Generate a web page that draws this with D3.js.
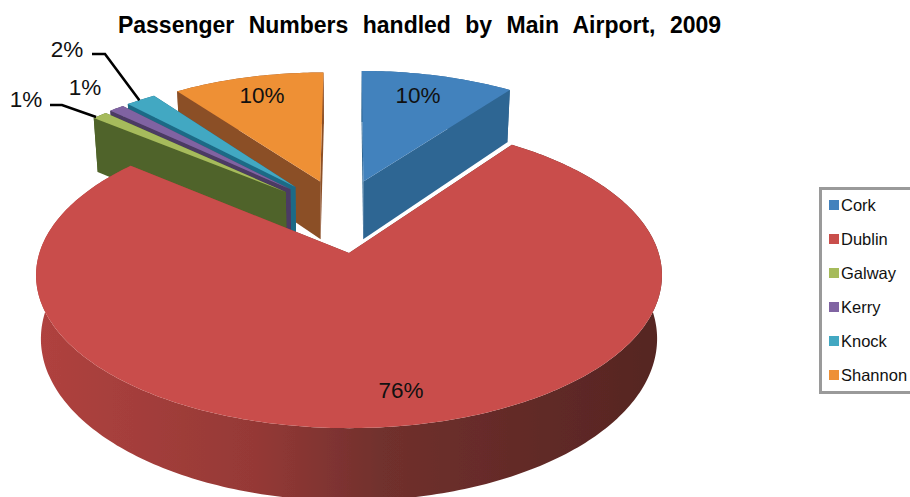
<!DOCTYPE html>
<html>
<head>
<meta charset="utf-8">
<script src="https://cdn.jsdelivr.net/npm/d3@7"></script>
<style>
  html, body { margin: 0; padding: 0; background: #fff; }
  svg { display: block; font-family: "Liberation Sans", Arial, sans-serif; }
</style>
</head>
<body>
<svg width="910" height="497"></svg>
<script>
// Data (percent of passengers)
const airports = ["Cork", "Dublin", "Galway", "Kerry", "Knock", "Shannon"];
const shares = [10, 76, 1, 1, 2, 10];
const shareLabels = ["10%", "76%", "1%", "1%", "2%", "10%"];

const topColors = ["#4382bd", "#c94e4b", "#a6bb5b", "#8064a2", "#42a8c2", "#ee9036"];
const wallColors = ["#2f6693", "#8c3533", "#4f6429", "#4b3a63", "#1f6a86", "#8b4f28"];

// How far each slice is pulled out of the centre, in pie radii (sideways, backwards)
const explode = [[0.05, 0.5], [0, -0.014], [-0.217, 0.42], [-0.202, 0.44], [-0.185, 0.458], [-0.1, 0.5]];

// Pixel spot of each percent label
const labelSpots = [[418, 95], [401, 390], [26, 99], [85, 87], [67, 49], [262, 95]];

const svg = d3.select("svg");

const cx = 349;
const cy = 251;
const radiusX = 309;
const radiusY = 149;
const perspective = 0.145;
const depth = 62;
const depthShrink = 0.00025; // lower rim is a bit narrower than the top one
const sliceRadius = [0.965, 1, 0.95, 0.95, 0.95, 0.95];

// Ground plane (u sideways, v backwards) to screen, z is the drop below the top face
function project(u, v, z) {
  const w = 1 + perspective * v;
  return [cx + ((radiusX * u) / w) * (1 - depthShrink * z), cy + (-radiusY * v + z) / w];
}

const pie = d3.pie().sort(null).value((d) => d)(shares);
const line = d3.line();

function rimPoint(i, angle, z) {
  const r = sliceRadius[i];
  return project(explode[i][0] + r * Math.sin(angle), explode[i][1] + r * Math.cos(angle), z);
}

function apex(i, z) {
  return project(explode[i][0], explode[i][1], z);
}

function rim(i, z) {
  const a = pie[i].startAngle;
  const b = pie[i].endAngle;
  const steps = Math.ceil((b - a) * 60);
  return d3.range(steps + 1).map((s) => rimPoint(i, a + ((b - a) * s) / steps, z));
}

// Red wall gets darker towards the right
const grad = svg
  .append("defs")
  .append("linearGradient")
  .attr("id", "dublinWall")
  .attr("gradientUnits", "userSpaceOnUse")
  .attr("x1", 37)
  .attr("x2", 661)
  .attr("y1", 0)
  .attr("y2", 0);
grad.append("stop").attr("offset", "0").attr("stop-color", "#b0423f");
grad.append("stop").attr("offset", "0.35").attr("stop-color", "#953936");
grad.append("stop").attr("offset", "0.55").attr("stop-color", "#71302d");
grad.append("stop").attr("offset", "1").attr("stop-color", "#552522");

d3.select("defs")
  .append("filter")
  .attr("id", "soft")
  .append("feGaussianBlur")
  .attr("stdDeviation", 0.6);

const pieGroup = svg.append("g").attr("filter", "url(#soft)");

// Back to front
const drawOrder = [5, 0, 4, 3, 2, 1];
drawOrder.forEach((i) => {
  const wall = i === 1 ? "url(#dublinWall)" : wallColors[i];
  const g = pieGroup.append("g");
  const top = rim(i, 0);
  const bottom = rim(i, depth);

  g.append("path").attr("d", line(top.concat(bottom.slice().reverse())) + "Z").attr("fill", wall);
  [pie[i].endAngle, pie[i].startAngle].forEach((angle) => {
    g.append("path")
      .attr("d", line([apex(i, 0), rimPoint(i, angle, 0), rimPoint(i, angle, depth), apex(i, depth)]) + "Z")
      .attr("fill", wall);
  });
  g.append("path")
    .attr("d", line([apex(i, 0)].concat(top)) + "Z")
    .attr("fill", topColors[i]);
});

// Title
svg
  .append("text")
  .attr("x", 419.5)
  .attr("y", 32.5)
  .attr("text-anchor", "middle")
  .attr("font-size", 23)
  .attr("font-weight", "bold")
  .attr("word-spacing", 8)
  .attr("fill", "#000")
  .text("Passenger Numbers handled by Main Airport, 2009");

// Percent labels
svg
  .append("g")
  .selectAll("text")
  .data(shareLabels)
  .join("text")
  .attr("x", (d, i) => labelSpots[i][0])
  .attr("y", (d, i) => labelSpots[i][1])
  .attr("dy", "0.35em")
  .attr("text-anchor", "middle")
  .attr("font-size", 22.5)
  .attr("fill", "#111")
  .text((d) => d);

// Leader lines for the thin slices
const leaders = [
  { slice: 2, elbow: [[50, 105], [62, 105]], angle: 0.2 },
  { slice: 4, elbow: [[92, 54], [105, 54]], angle: 0.45 }
];
leaders.forEach((l) => {
  const p = pie[l.slice];
  const end = rimPoint(l.slice, p.startAngle + (p.endAngle - p.startAngle) * l.angle, 0);
  svg
    .append("path")
    .attr("d", line(l.elbow.concat([end])))
    .attr("fill", "none")
    .attr("stroke", "#000")
    .attr("stroke-width", 2.6);
});

// Legend
const legendY = d3.scalePoint().domain(airports).range([205, 375]);
const legend = svg.append("g");
legend
  .append("rect")
  .attr("x", 820.5)
  .attr("y", 188.5)
  .attr("width", 110)
  .attr("height", 204)
  .attr("fill", "#fff")
  .attr("stroke", "#9a9a9a")
  .attr("stroke-width", 3);
const rows = legend
  .selectAll("g")
  .data(airports)
  .join("g")
  .attr("transform", (d) => `translate(829, ${legendY(d)})`);
rows
  .append("rect")
  .attr("y", -5)
  .attr("width", 10)
  .attr("height", 10)
  .attr("fill", (d, i) => topColors[i]);
rows
  .append("text")
  .attr("x", 12)
  .attr("dy", "0.35em")
  .attr("font-size", 16.5)
  .attr("fill", "#111")
  .text((d) => d);
</script>
</body>
</html>
